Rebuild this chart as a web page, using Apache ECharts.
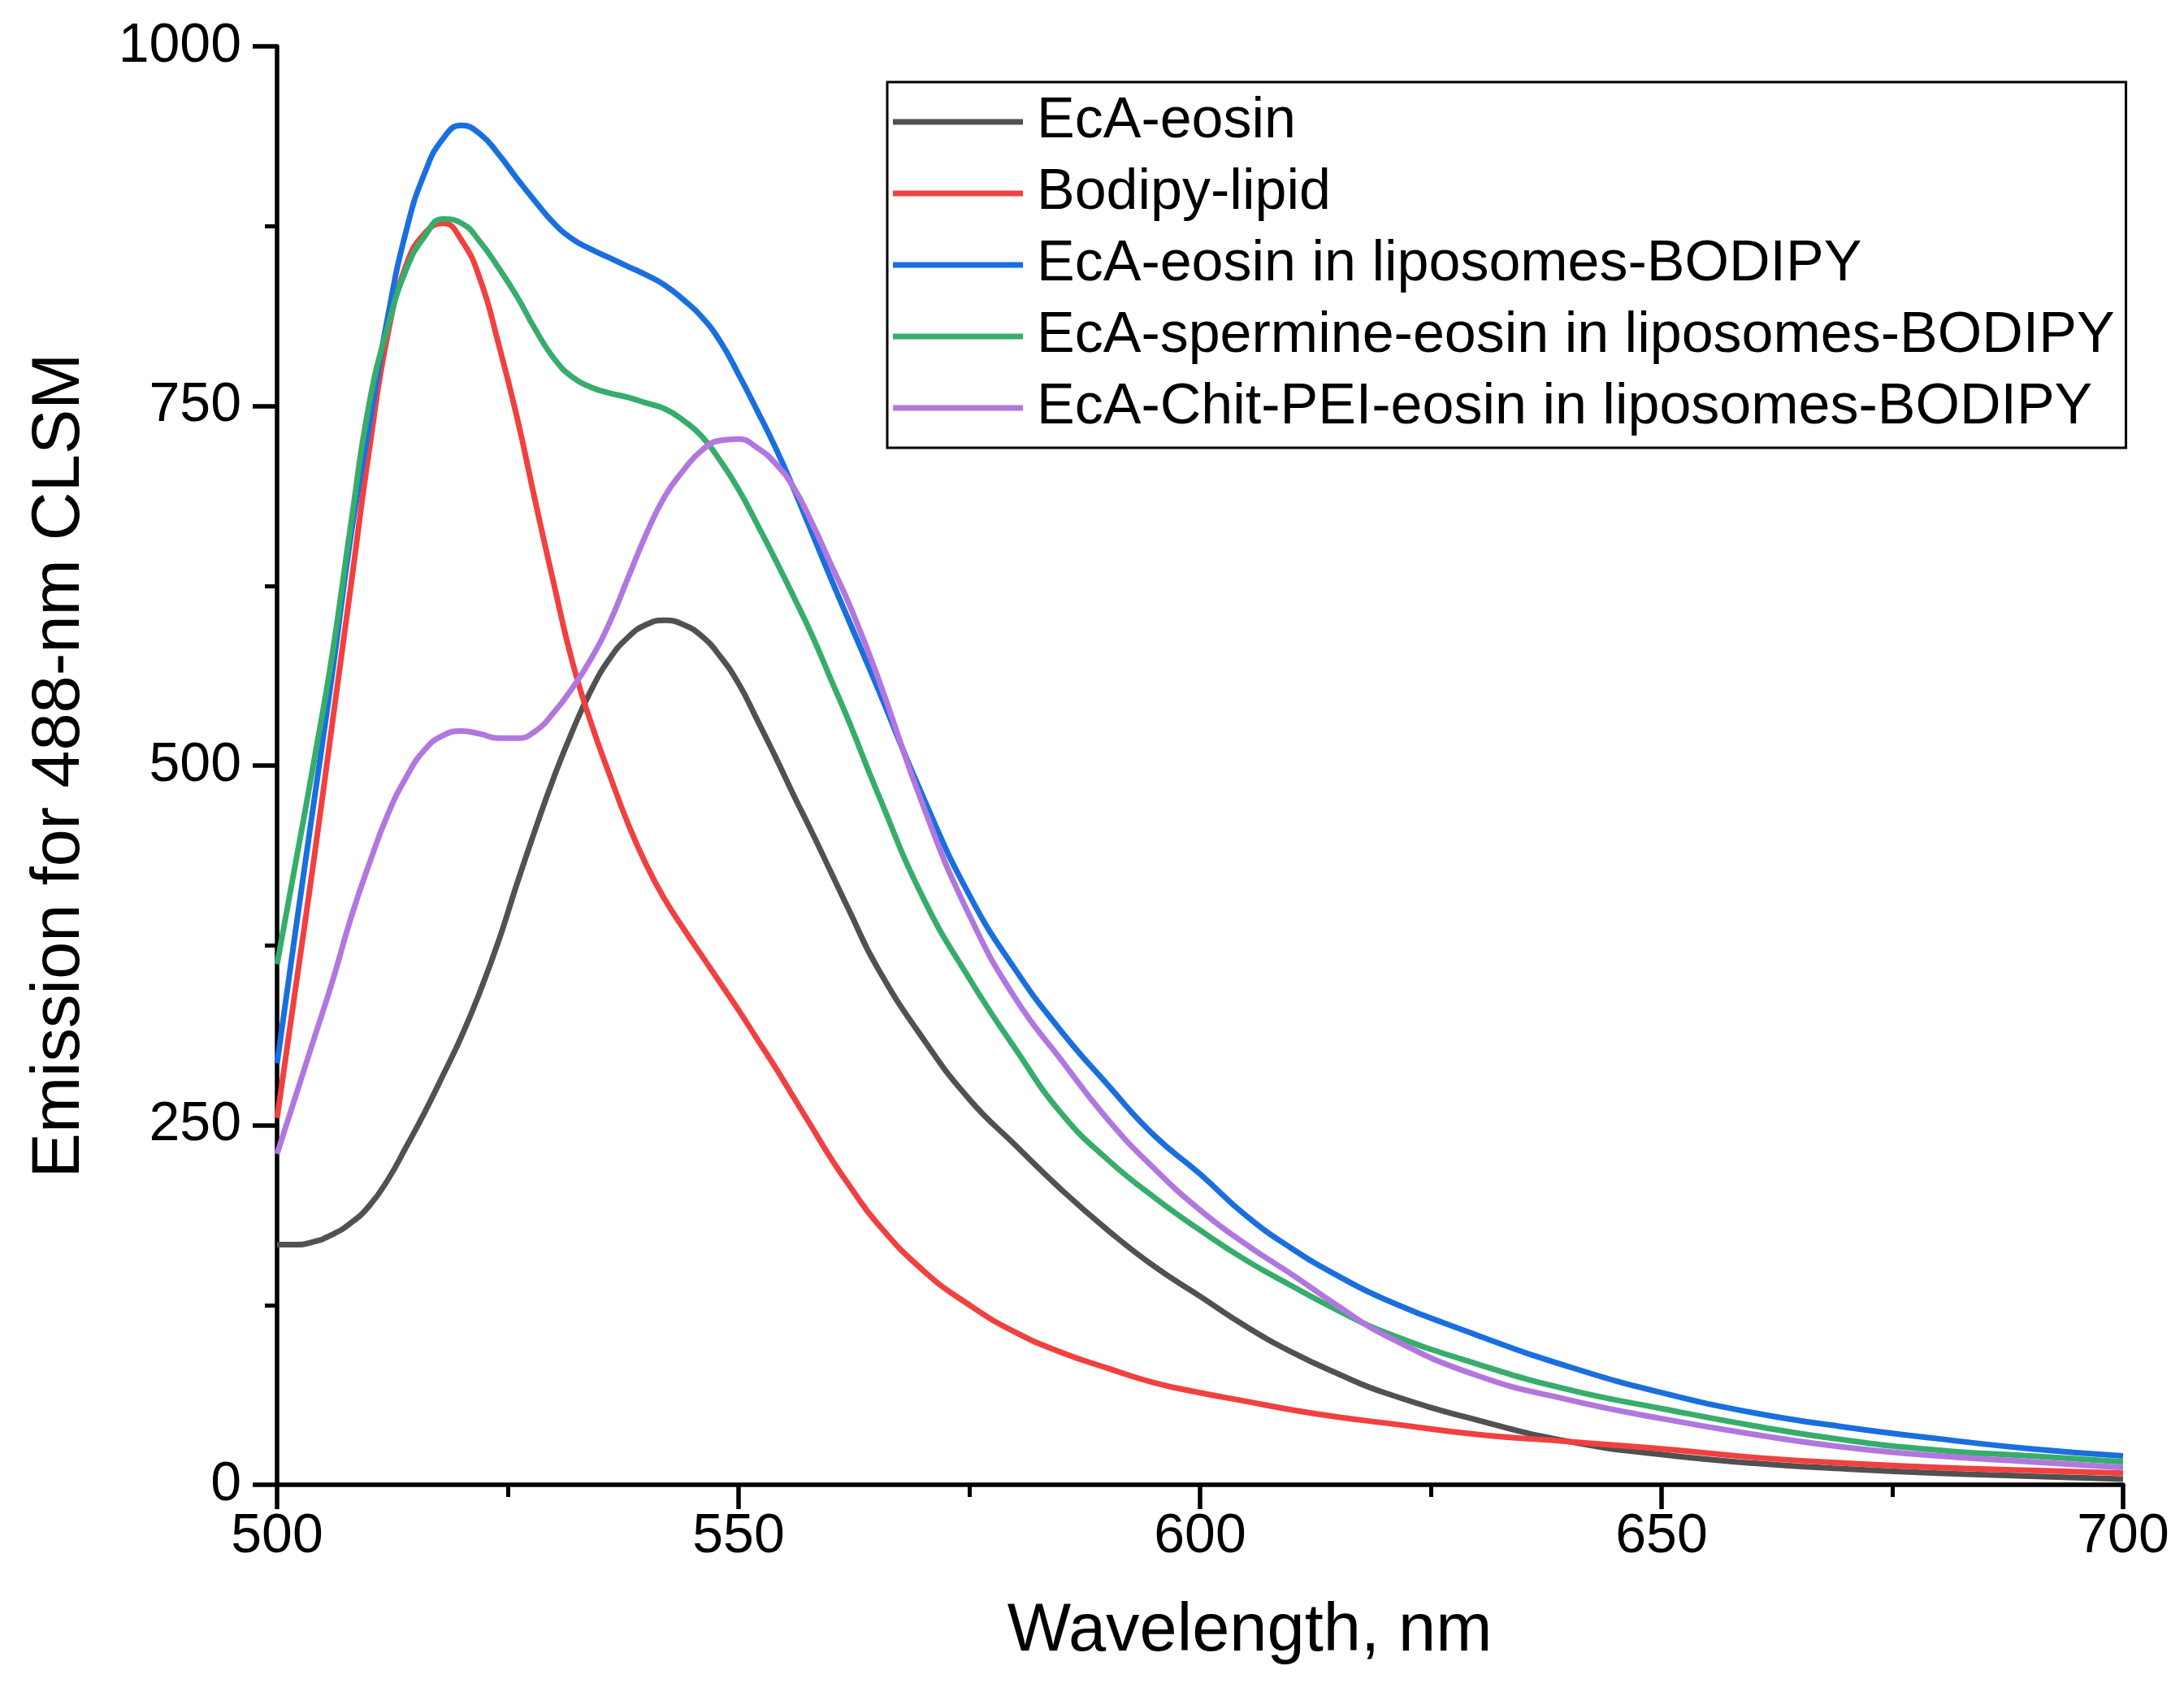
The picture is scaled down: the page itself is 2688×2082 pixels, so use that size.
<!DOCTYPE html>
<html>
<head>
<meta charset="utf-8">
<script src="https://cdn.jsdelivr.net/npm/echarts@6/dist/echarts.min.js"></script>
<style>
html,body{margin:0;padding:0;background:#fff;}
#chart{width:2688px;height:2082px;}
</style>
</head>
<body>
<div id="chart"></div>
<script>
const wavelengths = [500,502,504,506,508,510,512,514,516,518,520,522,524,526,528,530,532,534,536,538,540,542,544,546,548,550,552,554,556,558,560,562,565,570,575,580,585,590,595,600,605,610,615,620,630,640,650,660,670,680,690,700];

const ecaEosin = [167,167,169,174,182,194,212,235,259,285,312,343,378,418,456,492,524,552,574,589,598,601,598,590,576,557,532,506,479,453,426,399,360,310,268,236,205,177,152,131,110,92,77,64,45,30,21,15,11,8,6,4];

const bodipyLipid = [255,345,435,530,625,720,800,848,870,877,865,838,793,742,683,626,572,530,494,460,431,407,387,368,349,330,310,290,269,248,227,208,182,149,125,106,92,81,71,64,58,52,47,43,35,30,25,19,15,12,10,8];

const ecaEosinLipo = [293,385,475,565,660,737,812,872,912,936,945,939,925,908,892,877,866,859,853,847,841,834,824,812,795,772,747,721,692,661,630,600,555,478,410,358,315,278,243,216,187,164,145,129,104,82,64,50,40,32,25,20];

const ecaSpermineLipo = [362,432,503,578,668,752,805,845,868,880,877,864,846,826,803,783,770,763,759,756,752,748,740,729,712,692,668,643,617,590,560,530,482,408,352,303,258,226,200,177,156,138,121,106,84,66,53,41,31,24,20,16];

const ecaChitPeiLipo = [230,270,310,350,394,432,466,492,511,521,524,522,519,519,524,537,554,574,599,630,661,687,705,719,726,727,721,710,693,668,640,612,563,472,396,338,295,254,220,191,167,146,124,104,76,59,46,35,26,20,16,12];

const seriesNames = ['EcA-eosin','Bodipy-lipid','EcA-eosin in liposomes-BODIPY','EcA-spermine-eosin in liposomes-BODIPY','EcA-Chit-PEI-eosin in liposomes-BODIPY'];
const seriesValues = [ecaEosin, bodipyLipid, ecaEosinLipo, ecaSpermineLipo, ecaChitPeiLipo];
const seriesColors = ['#515151','#F14040','#1A6FDF','#37AD6B','#B177DE'];

const xTicks = [500,550,600,650,700];
const yTicks = [0,250,500,750,1000];

const FONT = '"Liberation Sans", Arial, sans-serif';
const chart = echarts.init(document.getElementById('chart'), null, {renderer:'canvas'});

const series = seriesNames.map((name, k) => ({
  name: name,
  type: 'line',
  symbol: 'none',
  smooth: 0.5,
  color: seriesColors[k],
  lineStyle: {width: 7, color: seriesColors[k]},
  data: wavelengths.map((x, i) => [x, seriesValues[k][i]])
}));

chart.setOption({
  backgroundColor: '#ffffff',
  animation: false,
  grid: {left: 341, right: 75, top: 57, bottom: 255, containLabel: false},
  xAxis: {
    type: 'value',
    min: xTicks[0], max: xTicks[xTicks.length-1], interval: 50,
    name: 'Wavelength, nm',
    nameLocation: 'middle',
    nameGap: 140,
    nameTextStyle: {fontSize: 83, fontFamily: FONT, color: '#000', padding: [0,0,0,122]},
    axisLine: {lineStyle: {color: '#000', width: 5.5}},
    axisTick: {length: 30, lineStyle: {color: '#000', width: 5.5}},
    minorTick: {show: true, splitNumber: 2, length: 15, lineStyle: {color: '#000', width: 5}},
    axisLabel: {fontSize: 68, fontFamily: FONT, color: '#000', margin: 30, formatter: v => String(v)},
    splitLine: {show: false}
  },
  yAxis: {
    type: 'value',
    min: yTicks[0], max: yTicks[yTicks.length-1], interval: 250,
    name: 'Emission for 488-nm CLSM',
    nameLocation: 'middle',
    nameGap: 225,
    nameTextStyle: {fontSize: 83, fontFamily: FONT, color: '#000'},
    axisLine: {show: true, lineStyle: {color: '#000', width: 5.5}},
    axisTick: {show: true, length: 30, lineStyle: {color: '#000', width: 5.5}},
    minorTick: {show: true, splitNumber: 2, length: 15, lineStyle: {color: '#000', width: 5}},
    axisLabel: {fontSize: 68, fontFamily: FONT, color: '#000', margin: 44, formatter: v => String(v)},
    splitLine: {show: false}
  },
  legend: {
    orient: 'vertical',
    left: 1092, top: 101,
    padding: [14, 14, 14, 7],
    itemWidth: 160, itemHeight: 7,
    itemGap: 18,
    icon: 'rect',
    backgroundColor: '#ffffff',
    borderColor: '#000', borderWidth: 3,
    textStyle: {fontSize: 70, fontFamily: FONT, color: '#000', lineHeight: 68, padding: [0,0,0,12]},
    data: seriesNames
  },
  series: series
});
</script>
</body>
</html>
